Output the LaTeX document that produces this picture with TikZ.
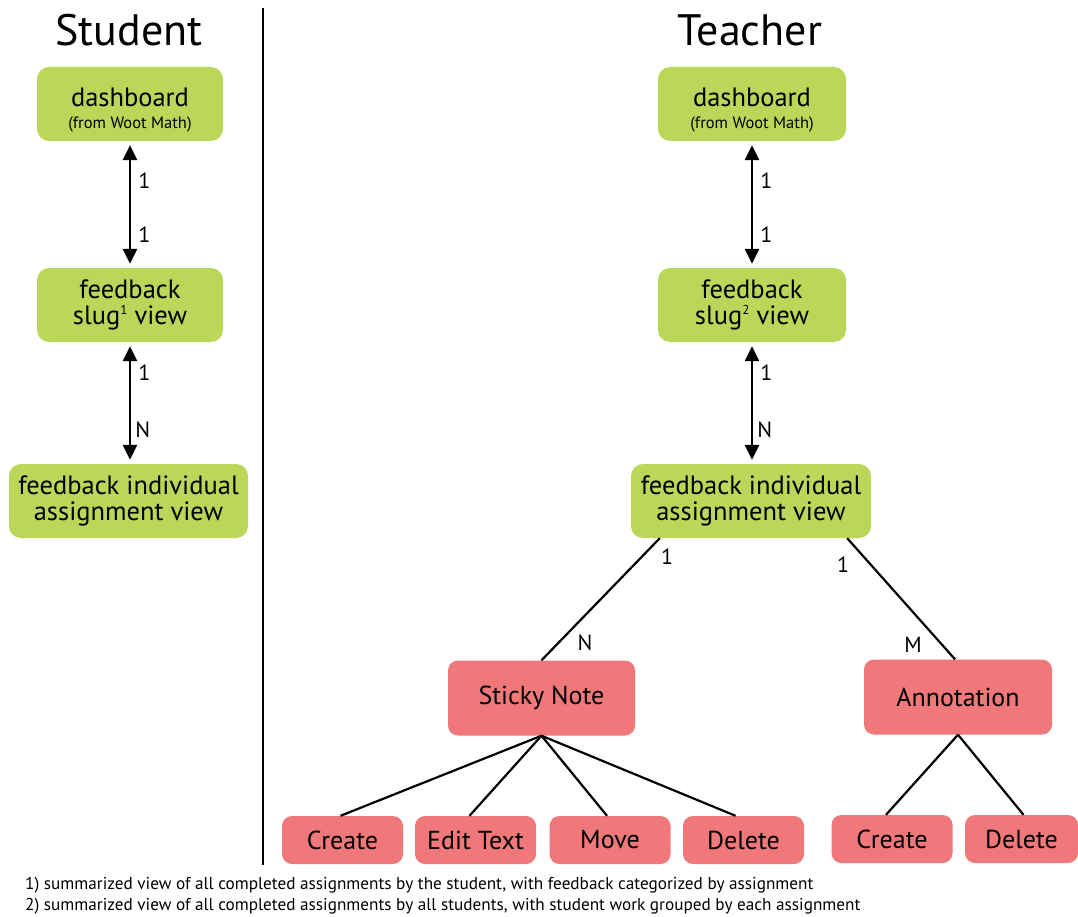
\documentclass[tikz,border=0pt]{standalone}
\usepackage{fontspec}
\setmainfont{PT Sans}
\usetikzlibrary{arrows.meta}
\definecolor{lgreen}{RGB}{188,214,90}
\definecolor{lred}{RGB}{240,120,122}
\newcommand{\supmark}[1]{\raisebox{0.75ex}{\fontsize{13}{13}\selectfont #1}}
\newcommand{\dashtext}{\rule{0pt}{31pt}dashboard\\[-4pt]{\fontsize{16.5}{17}\selectfont (from Woot Math)}}
\begin{document}
\begin{tikzpicture}[x=1pt,y=-1pt,
  gbox/.style={fill=lgreen,rounded corners=12pt,align=center,inner sep=0pt,
    font=\fontsize{26.5}{26}\selectfont},
  rbox/.style={fill=lred,rounded corners=10pt,align=center,inner sep=0pt,
    font=\fontsize{26}{26}\selectfont},
  title/.style={font=\fontsize{44}{46}\selectfont},
  biarrow/.style={line width=2.8pt,{Triangle[length=15pt,width=14pt]}-{Triangle[length=15pt,width=14pt]},shorten <=4pt,shorten >=4pt},
  tline/.style={line width=2.2pt},
  card/.style={font=\fontsize{22}{24}\selectfont,inner sep=0pt},
  note/.style={font=\fontsize{17.2}{18}\selectfont,anchor=west,inner sep=0pt}]
\useasboundingbox (0,0) rectangle (1078,917);
\fill[white] (0,0) rectangle (1078,917);
% divider
\draw[line width=2pt] (263,8) -- (263,865);
% titles
\node[title] (tstu) at (129,30) {Student};
\node[title] (ttea) at (750,30) {Teacher};
% student column
\node[gbox,minimum width=186pt,minimum height=74pt] (sd) at (130,104) {\dashtext};
\node[gbox,minimum width=186pt,minimum height=74pt] (ss) at (130,305) {feedback\\slug\supmark{1} view};
\node[gbox,minimum width=239pt,minimum height=74pt] (si) at (128.5,501) {feedback individual\\assignment view};
\draw[biarrow] (sd.south -| 130,0) -- (ss.north -| 130,0)
  node[card,anchor=west,pos=0.31,xshift=7pt] (sl1) {1}
  node[card,anchor=west,pos=0.74,xshift=7pt] (sl2) {1};
\draw[biarrow] (ss.south -| 130,0) -- (si.north -| 130,0)
  node[card,anchor=west,pos=0.25,xshift=7pt] (sl3) {1}
  node[card,anchor=west,pos=0.72,xshift=4pt] (sl4) {N};
% teacher column
\node[gbox,minimum width=188pt,minimum height=74pt] (td) at (752,104) {\dashtext};
\node[gbox,minimum width=188pt,minimum height=74pt] (ts) at (752,305) {feedback\\slug\supmark{2} view};
\node[gbox,minimum width=240pt,minimum height=74pt] (ti) at (751,501) {feedback individual\\assignment view};
\draw[biarrow] (td.south -| 752,0) -- (ts.north -| 752,0)
  node[card,anchor=west,pos=0.31,xshift=7pt] (tl1) {1}
  node[card,anchor=west,pos=0.74,xshift=7pt] (tl2) {1};
\draw[biarrow] (ts.south -| 752,0) -- (ti.north -| 752,0)
  node[card,anchor=west,pos=0.25,xshift=7pt] (tl3) {1}
  node[card,anchor=west,pos=0.72,xshift=4pt] (tl4) {N};
% second level
\node[rbox,minimum width=187pt,minimum height=75pt] (sn) at (541.5,698) {Sticky Note};
\node[rbox,minimum width=188pt,minimum height=75pt] (an) at (958,697) {Annotation};
\draw[tline] ([xshift=29pt]ti.south west) -- (sn.north);
\draw[tline] ([xshift=-24pt]ti.south east) -- ([xshift=-3pt]an.north);
\node[card] (c1) at (667,557) {1};
\node[card] (cn) at (585,643) {N};
\node[card] (c2) at (843,565) {1};
\node[card] (cm) at (913,645) {M};
% third level
\node[rbox,minimum width=121pt,minimum height=48pt] (b1) at (342.5,840) {Create};
\node[rbox,minimum width=121pt,minimum height=48pt] (b2) at (475.5,840) {Edit Text};
\node[rbox,minimum width=121pt,minimum height=48pt] (b3) at (610,840) {Move};
\node[rbox,minimum width=121pt,minimum height=48pt] (b4) at (743.5,840) {Delete};
\node[rbox,minimum width=121pt,minimum height=48pt] (b5) at (892,839) {Create};
\node[rbox,minimum width=113pt,minimum height=48pt] (b6) at (1021.5,839) {Delete};
\draw[tline] (sn.south) -- ([xshift=-2pt]b1.north);
\draw[tline] (sn.south) -- ([xshift=-6pt]b2.north);
\draw[tline] (sn.south) -- ([xshift=-3pt]b3.north);
\draw[tline] (sn.south) -- ([xshift=-8pt]b4.north);
\draw[tline] (an.south) -- ([xshift=-6pt]b5.north);
\draw[tline] (an.south) -- ([xshift=2pt]b6.north);
% footnotes
\node[note] (n1) at (25,885) {1) summarized view of all completed assignments by the student, with feedback categorized by assignment};
\node[note] (n2) at (25,906) {2) summarized view of all completed assignments by all students, with student work grouped by each assignment};
\end{tikzpicture}
\end{document}
